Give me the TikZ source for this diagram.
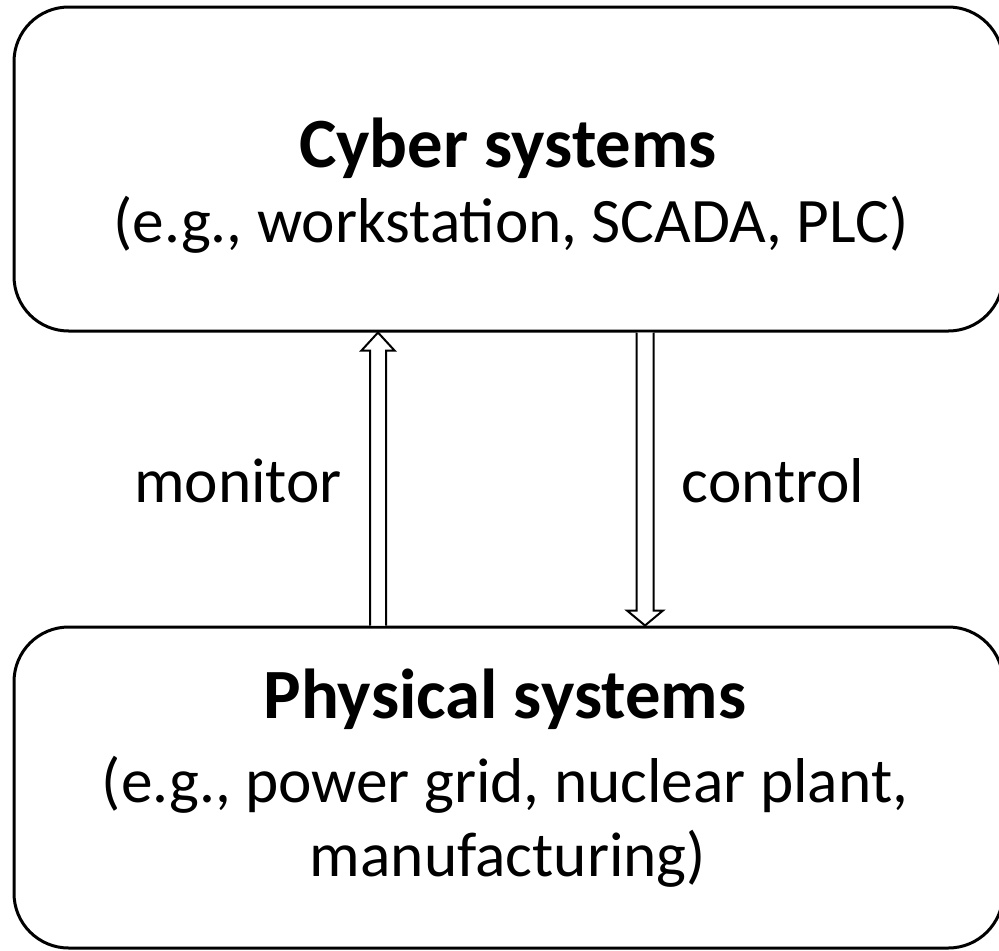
\documentclass[tikz,border=0pt]{standalone}
\usepackage{fontspec}
\setmainfont{Carlito}
\usetikzlibrary{calc}
\begin{document}
\begin{tikzpicture}[x=0.75pt,y=-0.75pt,
  box/.style={draw=black,line width=2.25pt,rounded corners=41pt,fill=white,inner sep=0pt},
  txt/.style={anchor=base,inner sep=0pt,font=\fontsize{47.5}{56}\selectfont},
  ttl/.style={txt,font=\fontsize{53}{62}\selectfont\bfseries},
  hollow/.style={draw=black,line width=1.5pt,fill=white,line join=miter}]
\useasboundingbox (0,0) rectangle (999,950);
\node[box,minimum width=741.75pt,minimum height=243pt] (cyber) at (508.5,169) {};
\node[box,minimum width=741.75pt,minimum height=240.75pt] (phys) at (508.5,787.5) {};
\node[ttl] (cybert) at (508,167) {Cyber systems};
\node[txt] (cyberd) at (511,242) {(e.g., workstation, SCADA, PLC)};
\node[ttl] (physt) at (505,718) {Physical systems};
\node[txt] (physd1) at (505,802) {(e.g., power grid, nuclear plant,};
\node[txt] (physd2) at (508,876) {manufacturing)};
\node[txt] (mon) at (238,502) {monitor};
\node[txt] (ctl) at (773,502) {control};
\coordinate (mx) at (378,0);
\coordinate (cx) at (645,0);
\coordinate (mb) at (mx |- phys.north);
\coordinate (mt) at (mx |- cyber.south);
\coordinate (cb) at (cx |- cyber.south);
\coordinate (ct) at (cx |- phys.north);
\filldraw[hollow] ($(mb)+(-8,0)$) -- ($(mt)+(-8,18)$) -- ($(mt)+(-16.5,18)$) -- (mt)
  -- ($(mt)+(16.5,18)$) -- ($(mt)+(8,18)$) -- ($(mb)+(8,0)$);
\filldraw[hollow] ($(cb)+(-8.5,0)$) -- ($(ct)+(-8.5,-15)$) -- ($(ct)+(-18,-15)$) -- (ct)
  -- ($(ct)+(18,-15)$) -- ($(ct)+(8.5,-15)$) -- ($(cb)+(8.5,0)$);
\end{tikzpicture}
\end{document}
